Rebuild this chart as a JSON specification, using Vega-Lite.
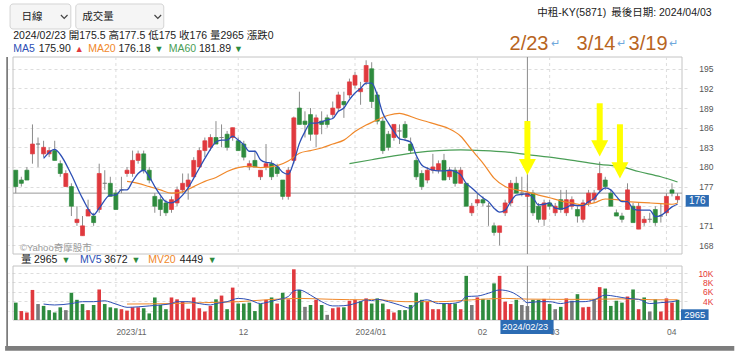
{
"$schema":"https://vega.github.io/schema/vega-lite/v6.json",
"width":679,"height":263,
"autosize":{"type":"none"},
"padding":{"left":8,"top":57,"right":53,"bottom":31},
"background":"#ffffff",
"config":{"view":{"stroke":null},"font":"Liberation Sans, Noto Sans CJK TC, sans-serif","axis":{"labelFont":"Liberation Sans, Noto Sans CJK TC, sans-serif","labelFontSize":8.5,"labelOverlap":false}},
"datasets":{
"one":[{"n":1}],
"mon":[{"i":18},{"i":40},{"i":61},{"i":83},{"i":96},{"i":117}],
"k":[
{"i":0,"d":"2023-10-04","o":179.5,"h":179.5,"l":176,"c":177,"v":3700,"vc":"d"},
{"i":1,"d":"2023-10-05","o":178,"h":178.5,"l":177,"c":177.5,"v":1900,"vc":"u"},
{"i":2,"d":"2023-10-06","o":179.5,"h":180,"l":178,"c":178,"v":1600,"vc":"u"},
{"i":3,"d":"2023-10-11","o":182,"h":186.5,"l":180.5,"c":183.5,"v":6400,"vc":"u"},
{"i":4,"d":"2023-10-12","o":183.5,"h":184.5,"l":180,"c":183.5,"v":3400,"vc":"f"},
{"i":5,"d":"2023-10-13","o":182,"h":184,"l":181.5,"c":183,"v":3000,"vc":"d","m5":181.3,"mv5":3400},
{"i":6,"d":"2023-10-16","o":182,"h":183,"l":181.5,"c":182.5,"v":2100,"vc":"d"},
{"i":7,"d":"2023-10-17","o":182.5,"h":184,"l":181,"c":181,"v":1600,"vc":"d","m5":182.7,"mv5":3200},
{"i":8,"d":"2023-10-18","o":180.5,"h":181,"l":178.5,"c":179,"v":2700,"vc":"d","m5":181.9},
{"i":9,"d":"2023-10-19","o":177,"h":179.5,"l":177,"c":179,"v":2100,"vc":"f"},
{"i":10,"d":"2023-10-20","o":177,"h":177.5,"l":172.5,"c":174,"v":5800,"vc":"d","m5":178.8,"mv5":3500},
{"i":11,"d":"2023-10-23","o":171.5,"h":174,"l":171,"c":172,"v":4300,"vc":"d"},
{"i":12,"d":"2023-10-24","o":169.5,"h":172.5,"l":169.5,"c":171,"v":3400,"vc":"d","m5":175.2,"mv5":3900},
{"i":13,"d":"2023-10-25","o":172.5,"h":175,"l":172.5,"c":173.5,"v":2100,"vc":"u"},
{"i":14,"d":"2023-10-26","o":172.5,"h":173,"l":171,"c":171.5,"v":3200,"vc":"d","m5":172.7,"mv5":3900},
{"i":15,"d":"2023-10-27","o":173.5,"h":180.5,"l":173,"c":179,"v":6500,"vc":"u","m5":173.7},
{"i":16,"d":"2023-10-30","o":177.5,"h":179.5,"l":176.5,"c":177.5,"v":3400,"vc":"d","mv5":4100},
{"i":17,"d":"2023-10-31","o":177.5,"h":178.5,"l":175.5,"c":175.5,"v":2700,"vc":"d","m5":175.7,"mv5":3800},
{"i":18,"d":"2023-11-01","o":176,"h":176.5,"l":173.5,"c":173.5,"v":2500,"vc":"d","m5":175.7},
{"i":19,"d":"2023-11-02","o":176.5,"h":178.5,"l":176,"c":176.5,"v":2300,"vc":"u","m5":176.5,"mv5":3000},
{"i":20,"d":"2023-11-03","o":179,"h":180,"l":178.5,"c":179.5,"v":2000,"vc":"u","m5":176.5,"m20":177.8,"mv5":2700,"mv20":3400},
{"i":21,"d":"2023-11-06","o":179,"h":182.5,"l":178.5,"c":181,"v":2700,"vc":"u","m5":177.8},
{"i":22,"d":"2023-11-07","o":181,"h":182.5,"l":180.5,"c":182,"v":2700,"vc":"u","m5":179,"m20":177.5,"mv5":2800},
{"i":23,"d":"2023-11-08","o":182,"h":182.5,"l":179,"c":179.5,"v":2500,"vc":"d","m5":179.5},
{"i":24,"d":"2023-11-09","o":179.5,"h":180,"l":177.5,"c":178,"v":1400,"vc":"d","m5":178.5,"m20":177,"mv5":3000},
{"i":25,"d":"2023-11-10","o":175.5,"h":176,"l":173,"c":174,"v":4800,"vc":"d","m5":177},
{"i":26,"d":"2023-11-13","o":175,"h":175.5,"l":172.5,"c":173.5,"v":3200,"vc":"d","m5":175.7,"m20":176.5,"mv5":3200},
{"i":27,"d":"2023-11-14","o":174.5,"h":175,"l":172.5,"c":173,"v":2300,"vc":"d","m5":174.7},
{"i":28,"d":"2023-11-15","o":173.5,"h":175.5,"l":173,"c":175,"v":4800,"vc":"u","m5":174.5,"m20":176,"mv5":3500,"mv20":3500},
{"i":29,"d":"2023-11-16","o":174.5,"h":177,"l":174,"c":176.5,"v":4400,"vc":"u","m5":174.9,"mv5":3900},
{"i":30,"d":"2023-11-17","o":176.5,"h":179,"l":176,"c":177.5,"v":3900,"vc":"u","m5":175.7,"m20":176.2},
{"i":31,"d":"2023-11-20","o":177,"h":179,"l":175,"c":178,"v":2400,"vc":"u","m5":176.8,"mv5":3900},
{"i":32,"d":"2023-11-21","o":178.5,"h":181.5,"l":178.5,"c":181,"v":4800,"vc":"u","m5":178.3,"m20":177},
{"i":33,"d":"2023-11-22","o":180,"h":183,"l":180,"c":182.5,"v":2500,"vc":"u","m5":179.8,"mv5":3500},
{"i":34,"d":"2023-11-23","o":182.5,"h":184.5,"l":181.5,"c":184,"v":1800,"vc":"u","m5":181.3,"m20":177.8,"mv20":3700},
{"i":35,"d":"2023-11-24","o":183,"h":185,"l":182.5,"c":184.5,"v":3000,"vc":"u","m5":182.7,"mv5":3200},
{"i":36,"d":"2023-11-27","o":184.5,"h":187,"l":183.5,"c":183.5,"v":4400,"vc":"d","m5":183.8,"m20":178.4,"mv5":3500},
{"i":37,"d":"2023-11-28","o":184.5,"h":186.5,"l":183,"c":184.5,"v":5200,"vc":"u","m5":184.1},
{"i":38,"d":"2023-11-29","o":185,"h":185.5,"l":182.5,"c":183,"v":2300,"vc":"d","m5":184.1,"m20":179.3,"mv5":3900},
{"i":39,"d":"2023-11-30","o":184.5,"h":186,"l":184,"c":186,"v":6900,"vc":"u","m5":184.7},
{"i":40,"d":"2023-12-01","o":184,"h":184.5,"l":182.5,"c":182.5,"v":3500,"vc":"d","m5":184.1,"m20":179.9,"mv5":4600,"mv20":3900},
{"i":41,"d":"2023-12-04","o":183.5,"h":184,"l":181,"c":181.5,"v":3500,"vc":"d","m5":183.4},
{"i":42,"d":"2023-12-05","o":180,"h":181,"l":179.5,"c":180.5,"v":3700,"vc":"d","m5":182.4,"m20":180.1,"mv5":4300},
{"i":43,"d":"2023-12-06","o":181,"h":182.5,"l":180,"c":180,"v":1900,"vc":"d","m5":182.4},
{"i":44,"d":"2023-12-07","o":178.5,"h":179.5,"l":178,"c":179.5,"v":3400,"vc":"d","m5":181.1,"m20":179.9,"mv5":3500},
{"i":45,"d":"2023-12-08","o":180,"h":183.5,"l":179.5,"c":180.5,"v":4300,"vc":"u","m5":180.7,"mv5":3700,"mv20":4300},
{"i":46,"d":"2023-12-11","o":180.5,"h":181,"l":178,"c":178.5,"v":4800,"vc":"d","m5":180.6},
{"i":47,"d":"2023-12-12","o":180,"h":180.5,"l":178.5,"c":179,"v":3500,"vc":"u","m5":180.1,"m20":180.2,"mv5":4300},
{"i":48,"d":"2023-12-13","o":178,"h":178,"l":175,"c":175.5,"v":5800,"vc":"d","m5":179.2},
{"i":49,"d":"2023-12-14","o":175.5,"h":180,"l":175,"c":179.5,"v":4400,"vc":"u","m5":178.9,"m20":180.9,"mv5":5000},
{"i":50,"d":"2023-12-15","o":181,"h":187.7,"l":180.5,"c":187.5,"v":10800,"vc":"u","m5":180.8,"mv5":6200},
{"i":51,"d":"2023-12-18","o":189,"h":191.5,"l":186.5,"c":186.5,"v":6400,"vc":"d","m5":183.6,"m20":182.1,"mv5":6400,"mv20":4600},
{"i":52,"d":"2023-12-19","o":187,"h":188.5,"l":184.5,"c":186.5,"v":2800,"vc":"f","m5":185.4},
{"i":53,"d":"2023-12-20","o":188,"h":189,"l":184,"c":185,"v":3200,"vc":"d","m5":186.7,"m20":182.5,"mv5":5300},
{"i":54,"d":"2023-12-21","o":185,"h":188,"l":183,"c":187.5,"v":4300,"vc":"u","m5":186.7},
{"i":55,"d":"2023-12-22","o":187,"h":188.5,"l":185,"c":186.5,"v":3200,"vc":"d","m5":186.9,"m20":182.9,"mv5":3900},
{"i":56,"d":"2023-12-25","o":187.5,"h":188,"l":186,"c":186.5,"v":1100,"vc":"f","m5":187.2},
{"i":57,"d":"2023-12-26","o":188,"h":190,"l":187.5,"c":189,"v":2500,"vc":"u","m5":187.4,"m20":183.5,"mv5":3000,"mv20":4400},
{"i":58,"d":"2023-12-27","o":189,"h":191.5,"l":188.5,"c":191,"v":2700,"vc":"u","m5":188.5,"mv5":3000},
{"i":59,"d":"2023-12-28","o":190,"h":191.5,"l":187.5,"c":189.5,"v":2700,"vc":"d","m5":189,"m20":184.1},
{"i":60,"d":"2023-12-29","o":191,"h":193.5,"l":190.5,"c":193,"v":4100,"vc":"u","m5":190.3,"m60":180.5,"mv5":3200},
{"i":61,"d":"2024-01-02","o":192.5,"h":194.5,"l":192,"c":194,"v":4300,"vc":"u","m5":191.3,"m20":185.4},
{"i":62,"d":"2024-01-03","o":191.5,"h":193,"l":189.5,"c":192,"v":4000,"vc":"d","m5":192,"mv5":3900},
{"i":63,"d":"2024-01-04","o":193,"h":196.3,"l":192.5,"c":195.5,"v":4600,"vc":"u","m5":192.8,"m20":186.4,"mv5":4300,"mv20":4300},
{"i":64,"d":"2024-01-05","o":195,"h":196,"l":189,"c":190,"v":3500,"vc":"d","m5":192.8,"m60":181.1,"mv5":4100,"mv20":4400},
{"i":65,"d":"2024-01-08","o":191,"h":191.5,"l":186.5,"c":187,"v":4600,"vc":"d","m5":191,"m20":187.2,"mv5":4400},
{"i":66,"d":"2024-01-09","o":187,"h":187.5,"l":182,"c":182.5,"v":3500,"vc":"d","m5":188.2},
{"i":67,"d":"2024-01-10","o":185,"h":185.5,"l":182.5,"c":183,"v":2300,"vc":"u","m5":186.7,"m20":187.9,"mv5":3900},
{"i":68,"d":"2024-01-11","o":184.5,"h":186.5,"l":184,"c":186.5,"v":1600,"vc":"u","m5":185.4,"m60":181.7},
{"i":69,"d":"2024-01-12","o":185.5,"h":186.5,"l":183.5,"c":185.5,"v":2100,"vc":"d","m5":184.3,"m20":188.2,"mv5":3200},
{"i":70,"d":"2024-01-15","o":186.5,"h":187,"l":184,"c":184.5,"v":2100,"vc":"d","m5":184.1,"m20":188,"mv20":3900},
{"i":71,"d":"2024-01-16","o":183.5,"h":184.5,"l":182,"c":182.5,"v":3200,"vc":"d","m5":183.8,"mv5":2500},
{"i":72,"d":"2024-01-17","o":181,"h":181.5,"l":178,"c":178.5,"v":5800,"vc":"d","m5":181.8,"m20":187.4,"m60":182.2,"mv5":3500},
{"i":73,"d":"2024-01-18","o":179,"h":179.5,"l":176.5,"c":177,"v":4300,"vc":"d","m5":180.3},
{"i":74,"d":"2024-01-19","o":178,"h":180,"l":177.5,"c":179.5,"v":3900,"vc":"u","m5":179.8,"m20":186.9,"mv5":4300},
{"i":75,"d":"2024-01-22","o":179.5,"h":182,"l":179,"c":180,"v":2300,"vc":"u","m5":179.5},
{"i":76,"d":"2024-01-23","o":179.5,"h":181,"l":179,"c":180.5,"v":2300,"vc":"u","m5":179.4,"m20":186.4,"m60":182.5,"mv5":3500,"mv20":3900},
{"i":77,"d":"2024-01-24","o":181,"h":182,"l":178,"c":178,"v":3500,"vc":"d","m5":179.4},
{"i":78,"d":"2024-01-25","o":178.5,"h":180,"l":178,"c":179.5,"v":3500,"vc":"u","m5":179.5,"m20":185.8,"mv5":3500},
{"i":79,"d":"2024-01-26","o":179.5,"h":180,"l":177,"c":177.5,"v":3500,"vc":"d","m5":179.3},
{"i":80,"d":"2024-01-29","o":177.5,"h":180,"l":177.5,"c":179.5,"v":2300,"vc":"u","m5":178.8,"m20":184.7,"m60":182.6,"mv5":3900},
{"i":81,"d":"2024-01-30","o":177.5,"h":177.5,"l":174,"c":174,"v":9400,"vc":"d","m5":177.5,"mv5":5000},
{"i":82,"d":"2024-01-31","o":173,"h":174.5,"l":172.5,"c":174,"v":3200,"vc":"f","m5":176.8,"m20":182.6,"mv20":4300},
{"i":83,"d":"2024-02-01","o":174.5,"h":176,"l":174,"c":175,"v":4800,"vc":"u","m5":176,"m20":181.6,"mv5":5100},
{"i":84,"d":"2024-02-02","o":175,"h":175.5,"l":174,"c":174.5,"v":4500,"vc":"d","m5":175.3,"m20":180.6,"m60":182.5},
{"i":85,"d":"2024-02-05","o":174,"h":174.5,"l":171,"c":174,"v":4300,"vc":"d","m5":174.7,"mv5":5700},
{"i":86,"d":"2024-02-15","o":171,"h":171.5,"l":169.5,"c":170,"v":7800,"vc":"d","m5":173.7,"m20":178.3},
{"i":87,"d":"2024-02-16","o":170,"h":171,"l":168,"c":171,"v":9400,"vc":"u","m5":173.1,"mv5":6400},
{"i":88,"d":"2024-02-19","o":173,"h":175,"l":172.5,"c":174.5,"v":3900,"vc":"u","m5":173.4,"m20":177,"m60":182.3,"mv20":4600},
{"i":89,"d":"2024-02-20","o":174.5,"h":178,"l":174,"c":177.5,"v":3400,"vc":"u","m5":174.7,"mv5":6000},
{"i":90,"d":"2024-02-21","o":177.5,"h":178.5,"l":176,"c":176,"v":4300,"vc":"d","m5":175.7,"m20":176.5},
{"i":91,"d":"2024-02-22","o":176,"h":178.5,"l":175.5,"c":176,"v":3200,"vc":"f","m5":175.8,"mv5":4600},
{"i":92,"d":"2024-02-23","o":175.5,"h":177.5,"l":175,"c":176,"v":2965,"vc":"f","m5":175.9,"m20":176.18,"m60":181.89,"mv5":3672,"mv20":4449},
{"i":93,"d":"2024-02-26","o":176,"h":176.5,"l":172.5,"c":173,"v":4300,"vc":"d","m5":175.3},
{"i":94,"d":"2024-02-27","o":174,"h":174.5,"l":171.5,"c":172,"v":4300,"vc":"d","m5":174.2,"m20":175.7,"mv5":3900},
{"i":95,"d":"2024-02-29","o":172,"h":175,"l":171,"c":174.5,"v":4500,"vc":"u","m5":174.3},
{"i":96,"d":"2024-03-01","o":174.5,"h":175,"l":173.5,"c":174,"v":3400,"vc":"d","m5":174.5,"m20":175.3,"m60":181.5,"mv5":3900},
{"i":97,"d":"2024-03-04","o":173,"h":174.5,"l":172.5,"c":174,"v":2300,"vc":"f","m5":173.7,"mv20":4400},
{"i":98,"d":"2024-03-05","o":175,"h":176.5,"l":173,"c":173.5,"v":2800,"vc":"d","m5":173.6,"m20":174.8,"mv5":3500},
{"i":99,"d":"2024-03-06","o":173,"h":176.5,"l":172.5,"c":175,"v":4600,"vc":"u","m5":173.8},
{"i":100,"d":"2024-03-07","o":174,"h":175.5,"l":173.5,"c":175,"v":4100,"vc":"f","m5":174.2,"m20":174.5,"mv5":3900},
{"i":101,"d":"2024-03-08","o":173.5,"h":174,"l":171.5,"c":172.5,"v":5500,"vc":"d","m5":174.1,"m60":180.9},
{"i":102,"d":"2024-03-11","o":172,"h":175,"l":171.5,"c":174.5,"v":2700,"vc":"u","m5":174.1,"m20":174.2,"mv5":3900},
{"i":103,"d":"2024-03-12","o":174.5,"h":176.5,"l":174,"c":176,"v":2800,"vc":"u","m5":174.7,"mv20":4400},
{"i":104,"d":"2024-03-13","o":175,"h":176.5,"l":174.5,"c":176,"v":4400,"vc":"f","m5":175.2,"m20":174.5,"mv5":4300},
{"i":105,"d":"2024-03-14","o":176.5,"h":180.8,"l":176,"c":179,"v":7000,"vc":"u","m5":176.2,"m60":180.4},
{"i":106,"d":"2024-03-15","o":178,"h":178.5,"l":176.5,"c":177,"v":6700,"vc":"d","m5":176.8,"m20":175.1,"mv5":5300},
{"i":107,"d":"2024-03-18","o":176,"h":176.5,"l":174,"c":174,"v":3000,"vc":"d","m5":176.5},
{"i":108,"d":"2024-03-19","o":173,"h":173.5,"l":172.5,"c":172.5,"v":4100,"vc":"d","m5":175.5,"m20":175,"mv5":5000},
{"i":109,"d":"2024-03-20","o":172.5,"h":173,"l":171.5,"c":172,"v":3700,"vc":"d","m5":174.7,"m60":180,"mv20":4500},
{"i":110,"d":"2024-03-21","o":173.5,"h":177.5,"l":173.5,"c":176.5,"v":5000,"vc":"u","m5":174.7,"m20":174.7,"mv5":4600},
{"i":111,"d":"2024-03-22","o":174,"h":174.5,"l":171.5,"c":171.5,"v":6500,"vc":"d","m5":173.6},
{"i":112,"d":"2024-03-25","o":170.5,"h":174.5,"l":170.5,"c":174,"v":2300,"vc":"u","m5":173.4,"m20":174.6,"m60":179.3,"mv5":4400},
{"i":113,"d":"2024-03-26","o":171.5,"h":172.5,"l":171,"c":172,"v":4800,"vc":"d","m5":173.4},
{"i":114,"d":"2024-03-27","o":172,"h":173,"l":171.5,"c":172,"v":1800,"vc":"f","m5":173.4,"m20":174.5,"mv5":3500},
{"i":115,"d":"2024-03-28","o":173.5,"h":174,"l":171,"c":171.5,"v":4400,"vc":"d","m5":172.4,"mv20":4300},
{"i":116,"d":"2024-03-29","o":172.5,"h":174.5,"l":171.5,"c":172.5,"v":1800,"vc":"u","m5":172.6,"m20":174.4,"m60":178.5,"mv5":3700},
{"i":117,"d":"2024-04-01","o":173,"h":176,"l":172.5,"c":175.5,"v":4600,"vc":"u","m5":173.2},
{"i":118,"d":"2024-04-02","o":176.5,"h":177.5,"l":175.5,"c":176,"v":3700,"vc":"u","m5":173.9,"m20":174.3,"mv5":3900},
{"i":119,"d":"2024-04-03","o":175,"h":176,"l":174.5,"c":175.5,"v":4300,"vc":"d","m5":174.3,"m20":174.5,"m60":177.7,"mv5":4100,"mv20":4300}
]},
"layer":[
{"layer":[
 {"data":{"name":"one"},"mark":{"type":"rect","fill":"#ffffff","fillOpacity":0,"stroke":"#c4c4c4","strokeWidth":1},
  "encoding":{"x":{"datum":-0.5,"type":"quantitative","scale":{"domain":[-0.5,119.8],"nice":false,"zero":false},"title":null},"x2":{"datum":119.8},
   "y":{"datum":196.8,"type":"quantitative","title":null,"scale":{"domain":[166.7,196.8],"range":[197,0],"nice":false,"zero":false}},
   "y2":{"datum":166.7}}},
 {"data":{"name":"mon"},"mark":{"type":"rule","color":"#dddddd","strokeDash":[3,3]},
  "encoding":{"x":{"field":"i","type":"quantitative","scale":{"domain":[-0.5,119.8],"nice":false,"zero":false},"title":null,
    "axis":{"orient":"bottom","values":[18,40,61,83,96,117],"tickCount":30,"labelExpr":"datum.value==18?'2023/11':datum.value==40?'12':datum.value==61?'2024/01':datum.value==83?'02':datum.value==96?'03':'04'","labelAlign":"left","labelPadding":7,"labelColor":"#666666","labelFontSize":8.5,"domain":false,"ticks":false,"tickSize":0,"grid":false,"title":null,"labelFlush":false,"labelOverlap":false}},
   "y":{"datum":196.8,"type":"quantitative","scale":{"domain":[166.7,196.8],"range":[197,0],"nice":false,"zero":false}},"y2":{"datum":166.7}}},
 {"data":{"name":"one"},"mark":{"type":"rule","color":"#9a9a9a"},
  "encoding":{"x":{"datum":-0.5,"type":"quantitative","scale":{"domain":[-0.5,119.8],"nice":false,"zero":false}},"x2":{"datum":119.8},"y":{"datum":176,"type":"quantitative","scale":{"domain":[166.7,196.8],"range":[197,0],"nice":false,"zero":false}}}},
 {"data":{"name":"one"},"mark":{"type":"rule","color":"#8a8a8a"},
  "encoding":{"x":{"datum":92,"type":"quantitative","scale":{"domain":[-0.5,119.8],"nice":false,"zero":false}},"y":{"datum":196.8,"type":"quantitative","scale":{"domain":[166.7,196.8],"range":[197,0],"nice":false,"zero":false}},"y2":{"datum":166.7}}},
 {"data":{"name":"one"},"mark":{"type":"rule","color":"#666666","strokeWidth":1.5},
  "encoding":{"x":{"datum":-1.56,"type":"quantitative","scale":{"domain":[-0.5,119.8],"nice":false,"zero":false}},"y":{"datum":196.8,"type":"quantitative","scale":{"domain":[166.7,196.8],"range":[197,0],"nice":false,"zero":false}},"y2":{"datum":152.6}}},
 {"data":{"name":"one"},"mark":{"type":"rect","fill":"#7d7d7d"},
  "encoding":{"x":{"datum":-1.92,"type":"quantitative","scale":{"domain":[-0.5,119.8],"nice":false,"zero":false}},"x2":{"datum":129.2},"y":{"datum":152.65,"type":"quantitative","scale":{"domain":[166.7,196.8],"range":[197,0],"nice":false,"zero":false}},"y2":{"datum":151.9}}},
 {"data":{"name":"k"},"mark":{"type":"rule","color":"#8c8c8c","strokeWidth":1},
  "encoding":{"x":{"field":"i","type":"quantitative","scale":{"domain":[-0.5,119.8],"nice":false,"zero":false},"title":null},
   "y":{"field":"l","type":"quantitative","title":null,"scale":{"domain":[166.7,196.8],"range":[197,0],"nice":false,"zero":false},
    "axis":{"orient":"right","values":[168,171,174,177,180,183,186,189,192,195],"tickCount":40,"labelExpr":"datum.value==174?'':datum.label","grid":true,"gridColor":"#dddddd","gridDash":[3,3],"domain":false,"ticks":false,"tickSize":0,"labelAlign":"right","labelBaseline":"middle","labelPadding":26,"labelColor":"#555555","labelFontSize":8.5,"labelOverlap":false,"labelFlush":false,"title":null}},
   "y2":{"field":"h"}}},
 {"data":{"name":"k"},"mark":{"type":"bar","size":4,"strokeWidth":0.7},
  "encoding":{"x":{"field":"i","type":"quantitative","scale":{"domain":[-0.5,119.8],"nice":false,"zero":false},"title":null},"y":{"field":"o","type":"quantitative","title":null,"scale":{"domain":[166.7,196.8],"range":[197,0],"nice":false,"zero":false}},"y2":{"field":"c"},
   "color":{"condition":[{"test":"datum.c > datum.o","value":"#E0393E"},{"test":"datum.c < datum.o","value":"#2E8B3E"}],"value":"#7a7a7a"},
   "stroke":{"condition":[{"test":"datum.c > datum.o","value":"#E0393E"},{"test":"datum.c < datum.o","value":"#2E8B3E"}],"value":"#7a7a7a"}}},
 {"data":{"name":"k"},"transform":[{"filter":{"field":"m60","valid":true}}],"mark":{"type":"line","color":"#4A9E56","strokeWidth":1.2,"interpolate":"monotone"},
  "encoding":{"x":{"field":"i","type":"quantitative","scale":{"domain":[-0.5,119.8],"nice":false,"zero":false},"title":null},"y":{"field":"m60","type":"quantitative","title":null,"scale":{"domain":[166.7,196.8],"range":[197,0],"nice":false,"zero":false}}}},
 {"data":{"name":"k"},"transform":[{"filter":{"field":"m20","valid":true}}],"mark":{"type":"line","color":"#F0882A","strokeWidth":1.2,"interpolate":"monotone"},
  "encoding":{"x":{"field":"i","type":"quantitative","scale":{"domain":[-0.5,119.8],"nice":false,"zero":false},"title":null},"y":{"field":"m20","type":"quantitative","title":null,"scale":{"domain":[166.7,196.8],"range":[197,0],"nice":false,"zero":false}}}},
 {"data":{"name":"k"},"transform":[{"filter":{"field":"m5","valid":true}}],"mark":{"type":"line","color":"#2D4FB5","strokeWidth":1.3,"interpolate":"monotone"},
  "encoding":{"x":{"field":"i","type":"quantitative","scale":{"domain":[-0.5,119.8],"nice":false,"zero":false},"title":null},"y":{"field":"m5","type":"quantitative","title":null,"scale":{"domain":[166.7,196.8],"range":[197,0],"nice":false,"zero":false}}}},
 {"data":{"name":"one"},"mark":{"type":"rule","color":"#FFFF00","strokeWidth":6,"strokeCap":"butt"},
  "encoding":{"x":{"datum":92,"type":"quantitative","scale":{"domain":[-0.5,119.8],"nice":false,"zero":false}},"y":{"datum":187.02,"type":"quantitative","scale":{"domain":[166.7,196.8],"range":[197,0],"nice":false,"zero":false}},"y2":{"datum":181.0}}},
 {"data":{"name":"one"},"mark":{"type":"rule","color":"#FFFF00","strokeWidth":6,"strokeCap":"butt"},
  "encoding":{"x":{"datum":105,"type":"quantitative","scale":{"domain":[-0.5,119.8],"nice":false,"zero":false}},"y":{"datum":189.73,"type":"quantitative","scale":{"domain":[166.7,196.8],"range":[197,0],"nice":false,"zero":false}},"y2":{"datum":183.9}}},
 {"data":{"name":"one"},"mark":{"type":"rule","color":"#FFFF00","strokeWidth":6,"strokeCap":"butt"},
  "encoding":{"x":{"datum":108.64,"type":"quantitative","scale":{"domain":[-0.5,119.8],"nice":false,"zero":false}},"y":{"datum":186.52,"type":"quantitative","scale":{"domain":[166.7,196.8],"range":[197,0],"nice":false,"zero":false}},"y2":{"datum":180.6}}},
 {"data":{"name":"one"},"mark":{"type":"point","shape":"M-1,-0.95L1,-0.95L0,0.95Z","filled":true,"fill":"#FFFF00","strokeWidth":0,"size":289,"opacity":1},
  "encoding":{"x":{"datum":92,"type":"quantitative","scale":{"domain":[-0.5,119.8],"nice":false,"zero":false}},"y":{"datum":179.99,"type":"quantitative","scale":{"domain":[166.7,196.8],"range":[197,0],"nice":false,"zero":false}}}},
 {"data":{"name":"one"},"mark":{"type":"point","shape":"M-1,-0.95L1,-0.95L0,0.95Z","filled":true,"fill":"#FFFF00","strokeWidth":0,"size":289,"opacity":1},
  "encoding":{"x":{"datum":105,"type":"quantitative","scale":{"domain":[-0.5,119.8],"nice":false,"zero":false}},"y":{"datum":182.85,"type":"quantitative","scale":{"domain":[166.7,196.8],"range":[197,0],"nice":false,"zero":false}}}},
 {"data":{"name":"one"},"mark":{"type":"point","shape":"M-1,-0.95L1,-0.95L0,0.95Z","filled":true,"fill":"#FFFF00","strokeWidth":0,"size":289,"opacity":1},
  "encoding":{"x":{"datum":108.64,"type":"quantitative","scale":{"domain":[-0.5,119.8],"nice":false,"zero":false}},"y":{"datum":179.48,"type":"quantitative","scale":{"domain":[166.7,196.8],"range":[197,0],"nice":false,"zero":false}}}},
 {"data":{"name":"one"},"mark":{"type":"rect","fill":"#f5f5f5","stroke":"#d4d4d4","cornerRadius":3},
  "encoding":{"x":{"datum":-1.03,"type":"quantitative","scale":{"domain":[-0.5,119.8],"nice":false,"zero":false}},"x2":{"datum":9.9},"y":{"datum":204.9,"type":"quantitative","scale":{"domain":[166.7,196.8],"range":[197,0],"nice":false,"zero":false}},"y2":{"datum":201.08}}},
 {"data":{"name":"one"},"mark":{"type":"rect","fill":"#f5f5f5","stroke":"#d4d4d4","cornerRadius":3},
  "encoding":{"x":{"datum":10.79,"type":"quantitative","scale":{"domain":[-0.5,119.8],"nice":false,"zero":false}},"x2":{"datum":26.61},"y":{"datum":204.9,"type":"quantitative","scale":{"domain":[166.7,196.8],"range":[197,0],"nice":false,"zero":false}},"y2":{"datum":201.08}}},
 {"data":{"name":"one"},"mark":{"type":"point","shape":"M-1,-0.5L0,0.5L1,-0.5","filled":false,"stroke":"#444444","strokeWidth":1.2,"size":44,"opacity":1},
  "encoding":{"x":{"datum":8.71,"type":"quantitative","scale":{"domain":[-0.5,119.8],"nice":false,"zero":false}},"y":{"datum":202.96,"type":"quantitative","scale":{"domain":[166.7,196.8],"range":[197,0],"nice":false,"zero":false}}}},
 {"data":{"name":"one"},"mark":{"type":"point","shape":"M-1,-0.5L0,0.5L1,-0.5","filled":false,"stroke":"#444444","strokeWidth":1.2,"size":44,"opacity":1},
  "encoding":{"x":{"datum":25.54,"type":"quantitative","scale":{"domain":[-0.5,119.8],"nice":false,"zero":false}},"y":{"datum":202.96,"type":"quantitative","scale":{"domain":[166.7,196.8],"range":[197,0],"nice":false,"zero":false}}}},
 {"data":{"name":"one"},"mark":{"type":"text","text":"日線","align":"left","baseline":"middle","fontSize":10.5,"color":"#222222"},
  "encoding":{"x":{"datum":1.04,"type":"quantitative","scale":{"domain":[-0.5,119.8],"nice":false,"zero":false}},"y":{"datum":202.96,"type":"quantitative","scale":{"domain":[166.7,196.8],"range":[197,0],"nice":false,"zero":false}}}},
 {"data":{"name":"one"},"mark":{"type":"text","text":"成交量","align":"left","baseline":"middle","fontSize":10.5,"color":"#222222"},
  "encoding":{"x":{"datum":11.96,"type":"quantitative","scale":{"domain":[-0.5,119.8],"nice":false,"zero":false}},"y":{"datum":202.96,"type":"quantitative","scale":{"domain":[166.7,196.8],"range":[197,0],"nice":false,"zero":false}}}},
 {"data":{"name":"one"},"mark":{"type":"text","text":"2024/02/23 開175.5 高177.5 低175 收176 量2965 漲跌0","align":"left","baseline":"middle","fontSize":10.5,"color":"#222222"},
  "encoding":{"x":{"datum":-0.45,"type":"quantitative","scale":{"domain":[-0.5,119.8],"nice":false,"zero":false}},"y":{"datum":200.01,"type":"quantitative","scale":{"domain":[166.7,196.8],"range":[197,0],"nice":false,"zero":false}}}},
 {"data":{"name":"one"},"mark":{"type":"text","text":"MA5","align":"left","baseline":"middle","fontSize":10.5,"color":"#2D4FB5"},
  "encoding":{"x":{"datum":-0.45,"type":"quantitative","scale":{"domain":[-0.5,119.8],"nice":false,"zero":false}},"y":{"datum":197.98,"type":"quantitative","scale":{"domain":[166.7,196.8],"range":[197,0],"nice":false,"zero":false}}}},
 {"data":{"name":"one"},"mark":{"type":"text","text":"175.90","align":"left","baseline":"middle","fontSize":10.5,"color":"#222222"},
  "encoding":{"x":{"datum":4.11,"type":"quantitative","scale":{"domain":[-0.5,119.8],"nice":false,"zero":false}},"y":{"datum":197.98,"type":"quantitative","scale":{"domain":[166.7,196.8],"range":[197,0],"nice":false,"zero":false}}}},
 {"data":{"name":"one"},"mark":{"type":"text","text":"▲","align":"left","baseline":"middle","fontSize":9,"color":"#E0393E"},
  "encoding":{"x":{"datum":10.61,"type":"quantitative","scale":{"domain":[-0.5,119.8],"nice":false,"zero":false}},"y":{"datum":197.98,"type":"quantitative","scale":{"domain":[166.7,196.8],"range":[197,0],"nice":false,"zero":false}}}},
 {"data":{"name":"one"},"mark":{"type":"text","text":"MA20","align":"left","baseline":"middle","fontSize":10.5,"color":"#F0882A"},
  "encoding":{"x":{"datum":13.02,"type":"quantitative","scale":{"domain":[-0.5,119.8],"nice":false,"zero":false}},"y":{"datum":197.98,"type":"quantitative","scale":{"domain":[166.7,196.8],"range":[197,0],"nice":false,"zero":false}}}},
 {"data":{"name":"one"},"mark":{"type":"text","text":"176.18","align":"left","baseline":"middle","fontSize":10.5,"color":"#222222"},
  "encoding":{"x":{"datum":18.46,"type":"quantitative","scale":{"domain":[-0.5,119.8],"nice":false,"zero":false}},"y":{"datum":197.98,"type":"quantitative","scale":{"domain":[166.7,196.8],"range":[197,0],"nice":false,"zero":false}}}},
 {"data":{"name":"one"},"mark":{"type":"text","text":"▼","align":"left","baseline":"middle","fontSize":9,"color":"#2E8B3E"},
  "encoding":{"x":{"datum":24.96,"type":"quantitative","scale":{"domain":[-0.5,119.8],"nice":false,"zero":false}},"y":{"datum":197.98,"type":"quantitative","scale":{"domain":[166.7,196.8],"range":[197,0],"nice":false,"zero":false}}}},
 {"data":{"name":"one"},"mark":{"type":"text","text":"MA60","align":"left","baseline":"middle","fontSize":10.5,"color":"#4A9E56"},
  "encoding":{"x":{"datum":27.49,"type":"quantitative","scale":{"domain":[-0.5,119.8],"nice":false,"zero":false}},"y":{"datum":197.98,"type":"quantitative","scale":{"domain":[166.7,196.8],"range":[197,0],"nice":false,"zero":false}}}},
 {"data":{"name":"one"},"mark":{"type":"text","text":"181.89","align":"left","baseline":"middle","fontSize":10.5,"color":"#222222"},
  "encoding":{"x":{"datum":32.93,"type":"quantitative","scale":{"domain":[-0.5,119.8],"nice":false,"zero":false}},"y":{"datum":197.98,"type":"quantitative","scale":{"domain":[166.7,196.8],"range":[197,0],"nice":false,"zero":false}}}},
 {"data":{"name":"one"},"mark":{"type":"text","text":"▼","align":"left","baseline":"middle","fontSize":9,"color":"#2E8B3E"},
  "encoding":{"x":{"datum":39.24,"type":"quantitative","scale":{"domain":[-0.5,119.8],"nice":false,"zero":false}},"y":{"datum":197.98,"type":"quantitative","scale":{"domain":[166.7,196.8],"range":[197,0],"nice":false,"zero":false}}}},
 {"data":{"name":"one"},"mark":{"type":"text","text":"中租-KY(5871)","align":"right","baseline":"middle","fontSize":10.5,"color":"#222222"},
  "encoding":{"x":{"datum":106.16,"type":"quantitative","scale":{"domain":[-0.5,119.8],"nice":false,"zero":false}},"y":{"datum":203.57,"type":"quantitative","scale":{"domain":[166.7,196.8],"range":[197,0],"nice":false,"zero":false}}}},
 {"data":{"name":"one"},"mark":{"type":"text","text":"最後日期: 2024/04/03","align":"right","baseline":"middle","fontSize":10.5,"color":"#222222"},
  "encoding":{"x":{"datum":125.12,"type":"quantitative","scale":{"domain":[-0.5,119.8],"nice":false,"zero":false}},"y":{"datum":203.57,"type":"quantitative","scale":{"domain":[166.7,196.8],"range":[197,0],"nice":false,"zero":false}}}},
 {"data":{"name":"one"},"mark":{"type":"text","text":"2/23","align":"left","baseline":"middle","fontSize":20,"color":"#B8651E"},
  "encoding":{"x":{"datum":88.79,"type":"quantitative","scale":{"domain":[-0.5,119.8],"nice":false,"zero":false}},"y":{"datum":198.76,"type":"quantitative","scale":{"domain":[166.7,196.8],"range":[197,0],"nice":false,"zero":false}}}},
 {"data":{"name":"one"},"mark":{"type":"text","text":"↵","align":"left","baseline":"middle","fontSize":11,"color":"#6FA8DC"},
  "encoding":{"x":{"datum":96.25,"type":"quantitative","scale":{"domain":[-0.5,119.8],"nice":false,"zero":false}},"y":{"datum":198.8,"type":"quantitative","scale":{"domain":[166.7,196.8],"range":[197,0],"nice":false,"zero":false}}}},
 {"data":{"name":"one"},"mark":{"type":"text","text":"3/14","align":"left","baseline":"middle","fontSize":20,"color":"#B8651E"},
  "encoding":{"x":{"datum":100.84,"type":"quantitative","scale":{"domain":[-0.5,119.8],"nice":false,"zero":false}},"y":{"datum":198.76,"type":"quantitative","scale":{"domain":[166.7,196.8],"range":[197,0],"nice":false,"zero":false}}}},
 {"data":{"name":"one"},"mark":{"type":"text","text":"↵","align":"left","baseline":"middle","fontSize":11,"color":"#6FA8DC"},
  "encoding":{"x":{"datum":108.2,"type":"quantitative","scale":{"domain":[-0.5,119.8],"nice":false,"zero":false}},"y":{"datum":198.8,"type":"quantitative","scale":{"domain":[166.7,196.8],"range":[197,0],"nice":false,"zero":false}}}},
 {"data":{"name":"one"},"mark":{"type":"text","text":"3/19","align":"left","baseline":"middle","fontSize":20,"color":"#B8651E"},
  "encoding":{"x":{"datum":110.2,"type":"quantitative","scale":{"domain":[-0.5,119.8],"nice":false,"zero":false}},"y":{"datum":198.76,"type":"quantitative","scale":{"domain":[166.7,196.8],"range":[197,0],"nice":false,"zero":false}}}},
 {"data":{"name":"one"},"mark":{"type":"text","text":"↵","align":"left","baseline":"middle","fontSize":11,"color":"#6FA8DC"},
  "encoding":{"x":{"datum":117.4,"type":"quantitative","scale":{"domain":[-0.5,119.8],"nice":false,"zero":false}},"y":{"datum":198.8,"type":"quantitative","scale":{"domain":[166.7,196.8],"range":[197,0],"nice":false,"zero":false}}}},
 {"data":{"name":"one"},"mark":{"type":"text","text":"量","align":"left","baseline":"middle","fontSize":10.5,"color":"#222222"},
  "encoding":{"x":{"datum":0.92,"type":"quantitative","scale":{"domain":[-0.5,119.8],"nice":false,"zero":false}},"y":{"datum":165.78,"type":"quantitative","scale":{"domain":[166.7,196.8],"range":[197,0],"nice":false,"zero":false}}}},
 {"data":{"name":"one"},"mark":{"type":"text","text":"2965","align":"left","baseline":"middle","fontSize":10.5,"color":"#222222"},
  "encoding":{"x":{"datum":3.28,"type":"quantitative","scale":{"domain":[-0.5,119.8],"nice":false,"zero":false}},"y":{"datum":165.78,"type":"quantitative","scale":{"domain":[166.7,196.8],"range":[197,0],"nice":false,"zero":false}}}},
 {"data":{"name":"one"},"mark":{"type":"text","text":"▼","align":"left","baseline":"middle","fontSize":9,"color":"#2E8B3E"},
  "encoding":{"x":{"datum":8.24,"type":"quantitative","scale":{"domain":[-0.5,119.8],"nice":false,"zero":false}},"y":{"datum":165.78,"type":"quantitative","scale":{"domain":[166.7,196.8],"range":[197,0],"nice":false,"zero":false}}}},
 {"data":{"name":"one"},"mark":{"type":"text","text":"MV5","align":"left","baseline":"middle","fontSize":10.5,"color":"#2D4FB5"},
  "encoding":{"x":{"datum":11.55,"type":"quantitative","scale":{"domain":[-0.5,119.8],"nice":false,"zero":false}},"y":{"datum":165.78,"type":"quantitative","scale":{"domain":[166.7,196.8],"range":[197,0],"nice":false,"zero":false}}}},
 {"data":{"name":"one"},"mark":{"type":"text","text":"3672","align":"left","baseline":"middle","fontSize":10.5,"color":"#222222"},
  "encoding":{"x":{"datum":15.9,"type":"quantitative","scale":{"domain":[-0.5,119.8],"nice":false,"zero":false}},"y":{"datum":165.78,"type":"quantitative","scale":{"domain":[166.7,196.8],"range":[197,0],"nice":false,"zero":false}}}},
 {"data":{"name":"one"},"mark":{"type":"text","text":"▼","align":"left","baseline":"middle","fontSize":9,"color":"#2E8B3E"},
  "encoding":{"x":{"datum":20.82,"type":"quantitative","scale":{"domain":[-0.5,119.8],"nice":false,"zero":false}},"y":{"datum":165.78,"type":"quantitative","scale":{"domain":[166.7,196.8],"range":[197,0],"nice":false,"zero":false}}}},
 {"data":{"name":"one"},"mark":{"type":"text","text":"MV20","align":"left","baseline":"middle","fontSize":10.5,"color":"#F0882A"},
  "encoding":{"x":{"datum":23.8,"type":"quantitative","scale":{"domain":[-0.5,119.8],"nice":false,"zero":false}},"y":{"datum":165.78,"type":"quantitative","scale":{"domain":[166.7,196.8],"range":[197,0],"nice":false,"zero":false}}}},
 {"data":{"name":"one"},"mark":{"type":"text","text":"4449","align":"left","baseline":"middle","fontSize":10.5,"color":"#222222"},
  "encoding":{"x":{"datum":29.5,"type":"quantitative","scale":{"domain":[-0.5,119.8],"nice":false,"zero":false}},"y":{"datum":165.78,"type":"quantitative","scale":{"domain":[166.7,196.8],"range":[197,0],"nice":false,"zero":false}}}},
 {"data":{"name":"one"},"mark":{"type":"text","text":"▼","align":"left","baseline":"middle","fontSize":9,"color":"#2E8B3E"},
  "encoding":{"x":{"datum":34.5,"type":"quantitative","scale":{"domain":[-0.5,119.8],"nice":false,"zero":false}},"y":{"datum":165.78,"type":"quantitative","scale":{"domain":[166.7,196.8],"range":[197,0],"nice":false,"zero":false}}}},
 {"data":{"name":"one"},"mark":{"type":"text","text":"©Yahoo奇摩股市","align":"left","baseline":"middle","fontSize":9.5,"color":"#9a9a9a"},
  "encoding":{"x":{"datum":0.74,"type":"quantitative","scale":{"domain":[-0.5,119.8],"nice":false,"zero":false}},"y":{"datum":167.66,"type":"quantitative","scale":{"domain":[166.7,196.8],"range":[197,0],"nice":false,"zero":false}}}},
 {"data":{"name":"one"},"mark":{"type":"rect","fill":"#2C6CB4"},
  "encoding":{"x":{"datum":120.46,"type":"quantitative","scale":{"domain":[-0.5,119.8],"nice":false,"zero":false}},"x2":{"datum":124.64},"y":{"datum":175.71,"type":"quantitative","scale":{"domain":[166.7,196.8],"range":[197,0],"nice":false,"zero":false}},"y2":{"datum":173.93}}},
 {"data":{"name":"one"},"mark":{"type":"text","text":"176","align":"center","baseline":"middle","fontSize":10,"color":"#ffffff"},
  "encoding":{"x":{"datum":122.55,"type":"quantitative","scale":{"domain":[-0.5,119.8],"nice":false,"zero":false}},"y":{"datum":174.82,"type":"quantitative","scale":{"domain":[166.7,196.8],"range":[197,0],"nice":false,"zero":false}}}}
]},
{"layer":[
 {"data":{"name":"one"},"mark":{"type":"rect","fill":"#ffffff","fillOpacity":0,"stroke":"#c4c4c4","strokeWidth":1},
  "encoding":{"x":{"datum":-0.5,"type":"quantitative","scale":{"domain":[-0.5,119.8],"nice":false,"zero":false}},"x2":{"datum":119.8},
   "y":{"datum":11500,"type":"quantitative","title":null,"scale":{"domain":[0,11500],"range":[263,209],"nice":false,"zero":false}},
   "y2":{"datum":0}}},
 {"data":{"name":"mon"},"mark":{"type":"rule","color":"#dddddd","strokeDash":[3,3]},
  "encoding":{"x":{"field":"i","type":"quantitative","scale":{"domain":[-0.5,119.8],"nice":false,"zero":false},"title":null},"y":{"datum":11500,"type":"quantitative","scale":{"domain":[0,11500],"range":[263,209],"nice":false,"zero":false}},"y2":{"datum":0}}},
 {"data":{"name":"one"},"mark":{"type":"rule","color":"#8a8a8a"},
  "encoding":{"x":{"datum":92,"type":"quantitative","scale":{"domain":[-0.5,119.8],"nice":false,"zero":false}},"y":{"datum":11500,"type":"quantitative","scale":{"domain":[0,11500],"range":[263,209],"nice":false,"zero":false}},"y2":{"datum":0}}},
 {"data":{"name":"k"},"mark":{"type":"bar","size":3.6},
  "encoding":{"x":{"field":"i","type":"quantitative","scale":{"domain":[-0.5,119.8],"nice":false,"zero":false},"title":null},
   "y":{"field":"v","type":"quantitative","title":null,"stack":null,"scale":{"domain":[0,11500],"range":[263,209],"nice":false,"zero":false},
    "axis":{"orient":"right","values":[2000,4000,6000,8000,10000],"tickCount":30,"labelExpr":"datum.value==2000?'':(datum.value/1000)+'K'","grid":true,"gridColor":"#dddddd","gridDash":[3,3],"domain":false,"ticks":false,"tickSize":0,"labelAlign":"right","labelBaseline":"middle","labelPadding":26,"labelColor":"#E53935","labelFontSize":8.5,"labelOverlap":false,"labelFlush":false,"title":null}},
   "y2":{"datum":0},
   "color":{"field":"vc","type":"nominal","scale":{"domain":["u","d","f"],"range":["#E0393E","#2E8B3E","#7a7a7a"]},"legend":null}}},
 {"data":{"name":"k"},"transform":[{"filter":{"field":"mv20","valid":true}}],"mark":{"type":"line","color":"#F0882A","strokeWidth":1,"interpolate":"monotone"},
  "encoding":{"x":{"field":"i","type":"quantitative","scale":{"domain":[-0.5,119.8],"nice":false,"zero":false},"title":null},"y":{"field":"mv20","type":"quantitative","title":null,"scale":{"domain":[0,11500],"range":[263,209],"nice":false,"zero":false}}}},
 {"data":{"name":"k"},"transform":[{"filter":{"field":"mv5","valid":true}}],"mark":{"type":"line","color":"#2D4FB5","strokeWidth":1,"interpolate":"monotone"},
  "encoding":{"x":{"field":"i","type":"quantitative","scale":{"domain":[-0.5,119.8],"nice":false,"zero":false},"title":null},"y":{"field":"mv5","type":"quantitative","title":null,"scale":{"domain":[0,11500],"range":[263,209],"nice":false,"zero":false}}}},
 {"data":{"name":"one"},"mark":{"type":"rect","fill":"#2C6CB4"},
  "encoding":{"x":{"datum":119.62,"type":"quantitative","scale":{"domain":[-0.5,119.8],"nice":false,"zero":false}},"x2":{"datum":124.58},"y":{"datum":2279,"type":"quantitative","scale":{"domain":[0,11500],"range":[263,209],"nice":false,"zero":false}},"y2":{"datum":0}}},
 {"data":{"name":"one"},"mark":{"type":"text","text":"2965","align":"center","baseline":"middle","fontSize":9.5,"color":"#ffffff"},
  "encoding":{"x":{"datum":122.1,"type":"quantitative","scale":{"domain":[-0.5,119.8],"nice":false,"zero":false}},"y":{"datum":1129,"type":"quantitative","scale":{"domain":[0,11500],"range":[263,209],"nice":false,"zero":false}}}},
 {"data":{"name":"one"},"mark":{"type":"rect","fill":"#2C6CB4"},
  "encoding":{"x":{"datum":87.15,"type":"quantitative","scale":{"domain":[-0.5,119.8],"nice":false,"zero":false}},"x2":{"datum":96.71},"y":{"datum":0,"type":"quantitative","scale":{"domain":[0,11500],"range":[263,209],"nice":false,"zero":false}},"y2":{"datum":-2981}}},
 {"data":{"name":"one"},"mark":{"type":"text","text":"2024/02/23","align":"center","baseline":"middle","fontSize":9.2,"color":"#ffffff"},
  "encoding":{"x":{"datum":91.6,"type":"quantitative","scale":{"domain":[-0.5,119.8],"nice":false,"zero":false}},"y":{"datum":-1491,"type":"quantitative","scale":{"domain":[0,11500],"range":[263,209],"nice":false,"zero":false}}}}
]}
],
"resolve":{"scale":{"y":"independent"},"axis":{"y":"independent"}}
}
